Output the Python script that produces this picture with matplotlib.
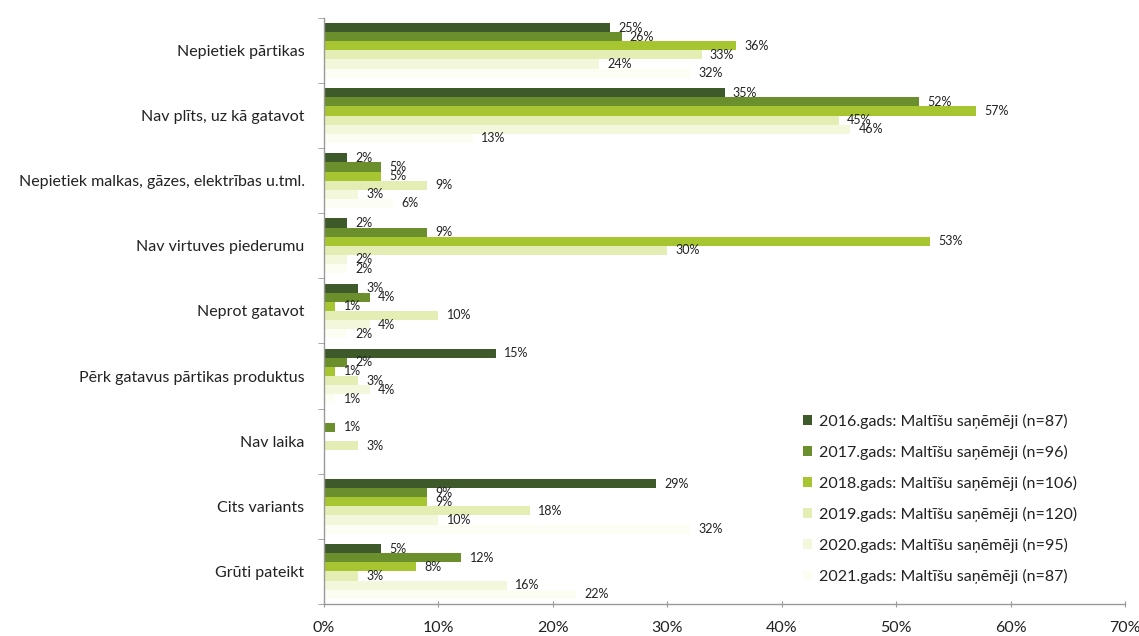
import matplotlib
matplotlib.use("Agg")
import matplotlib.pyplot as plt
import numpy as np
from matplotlib.ticker import FuncFormatter

categories = [
    "Nepietiek pārtikas",
    "Nav plīts, uz kā gatavot",
    "Nepietiek malkas, gāzes, elektrības u.tml.",
    "Nav virtuves piederumu",
    "Neprot gatavot",
    "Pērk gatavus pārtikas produktus",
    "Nav laika",
    "Cits variants",
    "Grūti pateikt",
]
series_names = [
    "2016.gads: Maltīšu saņēmēji (n=87)",
    "2017.gads: Maltīšu saņēmēji (n=96)",
    "2018.gads: Maltīšu saņēmēji (n=106)",
    "2019.gads: Maltīšu saņēmēji (n=120)",
    "2020.gads: Maltīšu saņēmēji (n=95)",
    "2021.gads: Maltīšu saņēmēji (n=87)",
]
v2016 = [25, 35, 2, 2, 3, 15, None, 29, 5]
v2017 = [26, 52, 5, 9, 4, 2, 1, 9, 12]
v2018 = [36, 57, 5, 53, 1, 1, None, 9, 8]
v2019 = [33, 45, 9, 30, 10, 3, 3, 18, 3]
v2020 = [24, 46, 3, 2, 4, 4, None, 10, 16]
v2021 = [32, 13, 6, 2, 2, 1, None, 32, 22]
series = [v2016, v2017, v2018, v2019, v2020, v2021]
colors = ["#3f5a2a", "#6a8f2c", "#a6c531", "#e4edb3", "#f3f7dc", "#fcfdf3"]
xticks = [0, 10, 20, 30, 40, 50, 60, 70]

plt.rcParams['font.family'] = ['Lato', 'DejaVu Sans']

fig = plt.figure(figsize=(11.39, 6.36), dpi=100)
ax = fig.add_axes([0.2845, 0.0503, 0.7032, 0.9217])

n = len(series)
group = 0.84
h = group / n
y = np.arange(len(categories))
for i, (vals, col, name) in enumerate(zip(series, colors, series_names)):
    pos = y - group / 2 + h * (i + 0.5)
    data = [v if v is not None else 0 for v in vals]
    ax.barh(pos, data, height=h, color=col, label=name, linewidth=0)
    for p, v in zip(pos, vals):
        if v is None:
            continue
        ax.annotate(f"{v}%", xy=(v, p), xytext=(6, 0), textcoords="offset points",
                    ha="left", va="center", fontsize=9, color="#222222")

ax.set_ylim(len(categories) - 0.5, -0.5)
ax.set_xlim(0, 70)
ax.set_yticks(y)
ax.set_yticklabels(categories, fontsize=11.5, color="#222222")
ax.set_yticks(np.arange(len(categories) + 1) - 0.5, minor=True)
ax.tick_params(axis="y", which="major", length=0, pad=14)
ax.tick_params(axis="y", which="minor", length=4, color="#999999", direction="out")
ax.set_xticks(xticks)
ax.xaxis.set_major_formatter(FuncFormatter(lambda v, p: f"{int(v)}%"))
ax.tick_params(axis="x", labelsize=11.5, labelcolor="#222222", length=4,
               direction="inout", color="#999999", pad=10)
for s in ["top", "right"]:
    ax.spines[s].set_visible(False)
for s in ["left", "bottom"]:
    ax.spines[s].set_color("#999999")
    ax.spines[s].set_linewidth(1.0)

leg = ax.legend(loc="lower left", bbox_to_anchor=(0.58, 0.01), frameon=False,
                fontsize=11.5, handlelength=0.55, handleheight=0.55,
                handletextpad=0.45, labelspacing=1.0)
for t in leg.get_texts():
    t.set_color("#222222")

fig.savefig("out.png", dpi=100)
